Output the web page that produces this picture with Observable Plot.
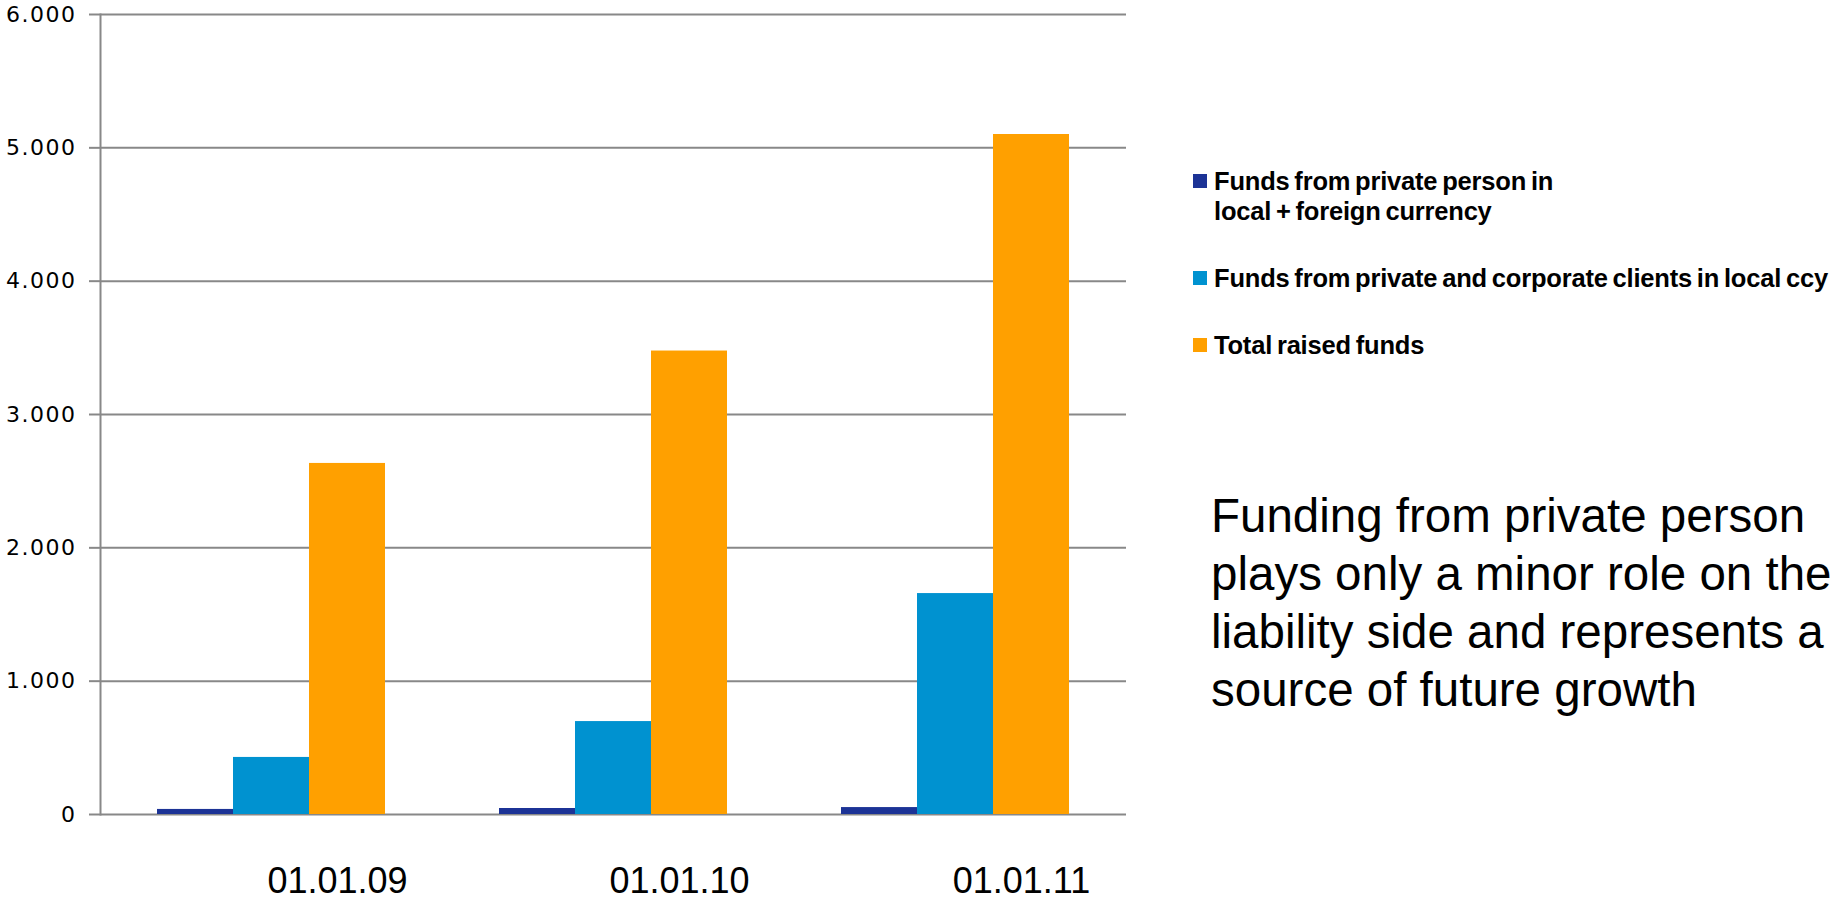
<!DOCTYPE html>
<html>
<head>
<meta charset="utf-8">
<script src="https://cdn.jsdelivr.net/npm/d3@7"></script>
<script src="https://cdn.jsdelivr.net/npm/@observablehq/plot@0.6"></script>
<style>
  html, body { margin: 0; padding: 0; background: #fff; }
  #page { position: relative; width: 1831px; height: 901px; overflow: hidden; background: #fff; font-family: "Liberation Sans", Arial, sans-serif; }
  #chart { position: absolute; left: 0; top: 0; }
  #chart g[aria-label="y-axis tick label"] text { font-family: "DejaVu Sans", Verdana, sans-serif; letter-spacing: 1.5px; }
  #legend { position: absolute; left: 1193px; top: 166px; display: flex; flex-direction: column; gap: 37px; }
  .item { display: flex; align-items: flex-start; }
  .swatch { width: 14px; height: 14px; margin-top: 8px; margin-right: 7px; flex: none; }
  .ltext { font-weight: bold; font-size: 25.5px; line-height: 30px; white-space: pre; color: #000; letter-spacing: -0.2px; word-spacing: -2px; }
  #note { position: absolute; left: 1211px; top: 487px; font-size: 47.5px; line-height: 58px; white-space: nowrap; color: #000; }
</style>
</head>
<body>
<div id="page">
  <div id="chart"></div>
  <div id="legend"></div>
  <div id="note"></div>
</div>
<script>
// ---- data ----
const dates = ["01.01.09", "01.01.10", "01.01.11"];
const series = [
  "Funds from private person in local + foreign currency",
  "Funds from private and corporate clients in local ccy",
  "Total raised funds"
];
const legendLabels = [
  "Funds from private person in\nlocal + foreign currency",
  "Funds from private and corporate clients in local ccy",
  "Total raised funds"
];
const privateFunds = [38, 45, 52];
const clientFunds = [428, 697, 1657];
const totalFunds = [2633, 3476, 5100];
const colors = ["#1c3396", "#0092d0", "#ffa000"];
const yTicks = [0, 1000, 2000, 3000, 4000, 5000, 6000];
const noteLines = [
  "Funding from private person",
  "plays only a minor role on the",
  "liability side and represents a",
  "source of future growth"
];

// ---- table ----
const valuesBySeries = [privateFunds, clientFunds, totalFunds];
const rows = dates.flatMap((d, i) =>
  series.map((s, j) => ({date: d, series: s, value: valuesBySeries[j][i]}))
);

const fmt = v => d3.format(",")(v).replace(/,/g, ".");

const plot = Plot.plot({
  width: 1140,
  height: 901,
  marginLeft: 99,
  marginRight: 13,
  marginTop: 14,
  marginBottom: 87,
  style: {fontFamily: "'Liberation Sans', Arial, sans-serif", background: "transparent", overflow: "visible"},
  fx: {domain: dates, padding: 0, axis: null},
  x: {domain: series, paddingInner: 0, paddingOuter: 0.75, axis: null},
  y: {domain: [0, 6000], axis: null},
  color: {domain: series, range: colors},
  marks: [
    Plot.ruleY(yTicks, {stroke: "#888", strokeWidth: 2, strokeOpacity: 1}),
    Plot.barY(rows, {fx: "date", x: "series", y: "value", fill: "series", inset: 0}),
    Plot.frame({anchor: "left", facetAnchor: "left", stroke: "#888", strokeWidth: 2, strokeOpacity: 1}),
    Plot.axisY(yTicks, {
      anchor: "left",
      tickSize: 11,
      tickPadding: 13,
      tickFormat: fmt,
      stroke: "#888",
      strokeWidth: 2,
      strokeOpacity: 1,
      fill: "#000",
      fontSize: 22,
      label: null
    }),
    Plot.text(dates, {
      fx: d => d,
      text: d => d,
      frameAnchor: "bottom",
      lineAnchor: "middle",
      dy: 67,
      dx: 66,
      fontSize: 36,
      fill: "#000"
    })
  ]
});
document.getElementById("chart").appendChild(plot);

// ---- legend ----
const legend = document.getElementById("legend");
series.forEach((s, i) => {
  const item = document.createElement("div");
  item.className = "item";
  const sw = document.createElement("div");
  sw.className = "swatch";
  sw.style.background = colors[i];
  const t = document.createElement("div");
  t.className = "ltext";
  t.textContent = legendLabels[i];
  item.appendChild(sw);
  item.appendChild(t);
  legend.appendChild(item);
});

// ---- note ----
const note = document.getElementById("note");
noteLines.forEach(l => {
  const d = document.createElement("div");
  d.textContent = l;
  note.appendChild(d);
});
</script>
</body>
</html>
